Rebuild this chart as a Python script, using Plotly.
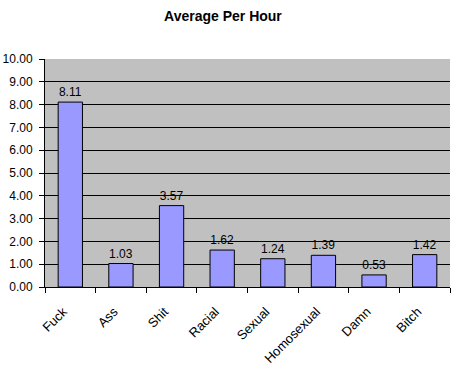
import plotly.graph_objects as go

categories = ["Fuck", "Ass", "Shit", "Racial", "Sexual", "Homosexual", "Damn", "Bitch"]
values = [8.11, 1.03, 3.57, 1.62, 1.24, 1.39, 0.53, 1.42]
y_ticks = [0, 1, 2, 3, 4, 5, 6, 7, 8, 9, 10]

fig = go.Figure(go.Bar(
    x=categories, y=values,
    marker=dict(color="#9999FF", line=dict(color="black", width=1)),
    text=[f"{v:.2f}" for v in values],
    textposition="outside",
    textfont=dict(family="Arial, Liberation Sans", size=12, color="black"),
    cliponaxis=False,
))

fig.update_layout(
    width=455, height=367,
    margin=dict(l=45, r=5, t=59, b=80),
    paper_bgcolor="white", plot_bgcolor="#C0C0C0",
    bargap=0.52,
    showlegend=False,
    title=dict(text="<b>Average Per Hour</b>", x=0.49, xanchor="center", y=0.955, yanchor="middle",
               font=dict(family="Arial, Liberation Sans", size=14, color="black")),
    font=dict(family="Arial, Liberation Sans", size=12, color="black"),
)
fig.update_xaxes(
    type="category", tickangle=-45, showline=True, linecolor="black", linewidth=1,
    ticks="outside", tickson="boundaries", ticklen=5, tickcolor="black",
    showgrid=False, tickfont=dict(size=13), automargin=False,
    ticklabelstandoff=11, ticklabelshift=-7,
)
fig.update_yaxes(
    range=[0, 10], tickvals=y_ticks, tickformat=".2f", showline=True, linecolor="black",
    linewidth=1, ticks="outside", ticklen=5, tickcolor="black", automargin=False,
    showgrid=True, gridcolor="black", gridwidth=1, zeroline=False, tickfont=dict(size=12),
    ticklabelstandoff=4,
)

fig.write_html("out.html", config={"displayModeBar": False},
               post_script="document.body.style.margin='0';document.body.style.overflow='hidden';")
